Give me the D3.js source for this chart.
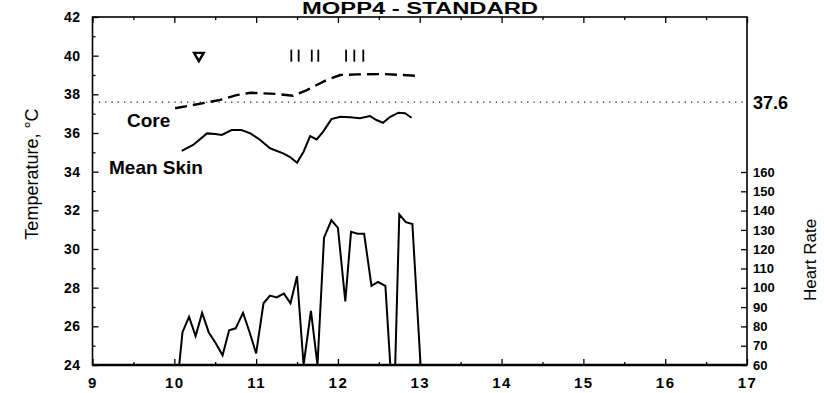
<!DOCTYPE html>
<html><head><meta charset="utf-8">
<script src="https://cdn.jsdelivr.net/npm/d3@7"></script>
<style>
html,body{margin:0;padding:0;background:#fff;}
svg{display:block;font-family:"Liberation Sans",Arial,sans-serif;}
</style></head>
<body><svg id="c" width="824" height="393"></svg>
<script>
// ---- data ----
const hourTicks = [9,10,11,12,13,14,15,16,17];
const hourMinorTicks = [9.5,10.5,11.5,12.5,13.5,14.5,15.5,16.5];
const tempTicks = [24,26,28,30,32,34,36,38,40,42];
const tempMinorTicks = [25,27,29,31,33,35,37,39,41];
const hrTicks = [60,70,80,90,100,110,120,130,140,150,160];

const coreHours  = [10.01,10.23,10.56,10.76,10.93,11.25,11.45,11.62,11.86,12.03,12.23,12.55,12.80,12.98];
const coreValues = [37.28,37.45,37.71,37.96,38.08,38.02,37.93,38.22,38.74,39.00,39.03,39.05,39.00,38.95];

const skinHours  = [10.09,10.23,10.40,10.50,10.58,10.70,10.82,10.93,11.05,11.17,11.33,11.41,11.50,11.58,11.66,11.74,11.82,11.92,12.03,12.15,12.27,12.39,12.47,12.55,12.64,12.74,12.82,12.90];
const skinValues = [35.07,35.38,35.98,35.95,35.90,36.15,36.15,35.98,35.64,35.21,34.95,34.77,34.46,35.03,35.84,35.67,36.07,36.72,36.84,36.81,36.76,36.88,36.67,36.53,36.84,37.05,37.02,36.79];

const hrHours  = [10.06,10.10,10.18,10.26,10.34,10.42,10.51,10.59,10.67,10.75,10.84,10.92,11.00,11.09,11.17,11.25,11.34,11.42,11.50,11.58,11.67,11.75,11.83,11.92,12.00,12.09,12.16,12.24,12.32,12.41,12.49,12.58,12.64,12.70,12.75,12.83,12.91,13.01];
const hrValues = [60,77,85,75,87,77,71,65,78,79,87,77,66,92,96,95,97,92,106,60,88,60,126,135,131,93,129,128,128,101,103,101,60,60,138,134,133,60];

const thresholdTemp = 37.6;
const markerTemp = 40;
const triangleHours = [10.3];
const barHours = [11.43,11.52,11.68,11.76,12.10,12.20,12.31];

const title = "MOPP4 - STANDARD";
const leftTitle = "Temperature, °C";
const rightTitle = "Heart Rate";
const coreLabel = "Core", skinLabel = "Mean Skin";

// ---- drawing ----
const svg = d3.select("#c");
const L=92.5, R=747, T=17, B=365;
const x  = d3.scaleLinear().domain([9,17]).range([L,R]);
const yT = d3.scaleLinear().domain([24,42]).range([B,T]);
const yH = d3.scaleLinear().domain([60,160]).range([B,172]);

// title
svg.append("text").attr("x",420).attr("y",14).attr("text-anchor","middle")
  .attr("font-weight","bold").attr("font-size",16)
  .attr("textLength",236).attr("lengthAdjust","spacingAndGlyphs").text(title);

// frame
svg.append("rect").attr("x",L).attr("y",T).attr("width",R-L).attr("height",B-T)
  .attr("fill","none").attr("stroke","#000").attr("stroke-width",1.6);
svg.append("line").attr("x1",L).attr("x2",R).attr("y1",B).attr("y2",B)
  .attr("stroke","#000").attr("stroke-width",2.6);

function style(g, fs, ls){
  g.select(".domain").remove();
  g.selectAll(".tick line").attr("stroke","#000").attr("stroke-width",1.3);
  g.selectAll(".tick text").attr("font-size",fs).attr("font-weight","bold")
    .attr("fill","#000").attr("font-family","Liberation Sans,Arial,sans-serif")
    .attr("letter-spacing",ls||0);
}
// bottom
svg.append("g").attr("transform",`translate(0,${B})`)
  .call(d3.axisBottom(x).tickValues(hourTicks).tickSize(-6).tickPadding(12).tickFormat(d3.format("d")))
  .call(g=>style(g,15,1.5));
svg.append("g").attr("transform",`translate(0,${B})`)
  .call(d3.axisBottom(x).tickValues(hourMinorTicks).tickSize(-3).tickFormat(""))
  .call(g=>style(g,0));
// top
svg.append("g").attr("transform",`translate(0,${T})`)
  .call(d3.axisTop(x).tickValues(hourTicks).tickSize(-6).tickFormat(""))
  .call(g=>style(g,0));
svg.append("g").attr("transform",`translate(0,${T})`)
  .call(d3.axisTop(x).tickValues(hourMinorTicks).tickSize(-3).tickFormat(""))
  .call(g=>style(g,0));
// left
svg.append("g").attr("transform",`translate(${L},0)`)
  .call(d3.axisLeft(yT).tickValues(tempTicks).tickSize(-6).tickPadding(12).tickFormat(d3.format("d")))
  .call(g=>style(g,14,0.5));
svg.append("g").attr("transform",`translate(${L},0)`)
  .call(d3.axisLeft(yT).tickValues(tempMinorTicks).tickSize(-3).tickFormat(""))
  .call(g=>style(g,0));
// right heart rate
svg.append("g").attr("transform",`translate(${R},0)`)
  .call(d3.axisRight(yH).tickValues(hrTicks).tickSize(-6).tickPadding(6).tickFormat(d3.format("d")))
  .call(g=>style(g,13,0));

// axis titles
svg.append("text").attr("transform",`translate(38,174) rotate(-90)`)
  .attr("text-anchor","middle").attr("font-size",18).text(leftTitle);
svg.append("text").attr("transform",`translate(816,260) rotate(-90)`)
  .attr("text-anchor","middle").attr("font-size",17).text(rightTitle);

// threshold dotted line
svg.append("line").attr("x1",L).attr("x2",R)
  .attr("y1",yT(thresholdTemp)).attr("y2",yT(thresholdTemp))
  .attr("stroke","#222").attr("stroke-width",1.2).attr("stroke-dasharray","1.3,5");
svg.append("text").attr("x",R+6).attr("y",yT(thresholdTemp)).attr("dy","0.36em")
  .attr("font-size",18).attr("font-weight","bold").text(thresholdTemp.toFixed(1));

// lines
const line = (ys)=>d3.line().x(d=>x(d[0])).y(d=>ys(d[1]));
svg.append("path").datum(d3.zip(coreHours,coreValues)).attr("d",line(yT))
  .attr("fill","none").attr("stroke","#000").attr("stroke-width",2.4)
  .attr("stroke-dasharray","12,6");
svg.append("path").datum(d3.zip(skinHours,skinValues)).attr("d",line(yT))
  .attr("fill","none").attr("stroke","#000").attr("stroke-width",2);
svg.append("path").datum(d3.zip(hrHours,hrValues)).attr("d",line(yH))
  .attr("fill","none").attr("stroke","#000").attr("stroke-width",2).attr("stroke-linejoin","miter");

// labels
svg.append("text").attr("x",127).attr("y",127).attr("font-size",19).attr("font-weight","bold").text(coreLabel);
svg.append("text").attr("x",109).attr("y",174).attr("font-size",19).attr("font-weight","bold").text(skinLabel);

// event markers
svg.selectAll(".tri").data(triangleHours).enter().append("path")
  .attr("transform",d=>`translate(${x(d)},${yT(markerTemp)}) rotate(180)`)
  .attr("d",d3.symbol().type(d3.symbolTriangle).size(40))
  .attr("fill","none").attr("stroke","#000").attr("stroke-width",2.4);
svg.selectAll(".bar").data(barHours).enter().append("line")
  .attr("x1",d=>x(d)).attr("x2",d=>x(d))
  .attr("y1",yT(markerTemp)-6).attr("y2",yT(markerTemp)+6)
  .attr("stroke","#000").attr("stroke-width",1.8);
</script></body></html>
